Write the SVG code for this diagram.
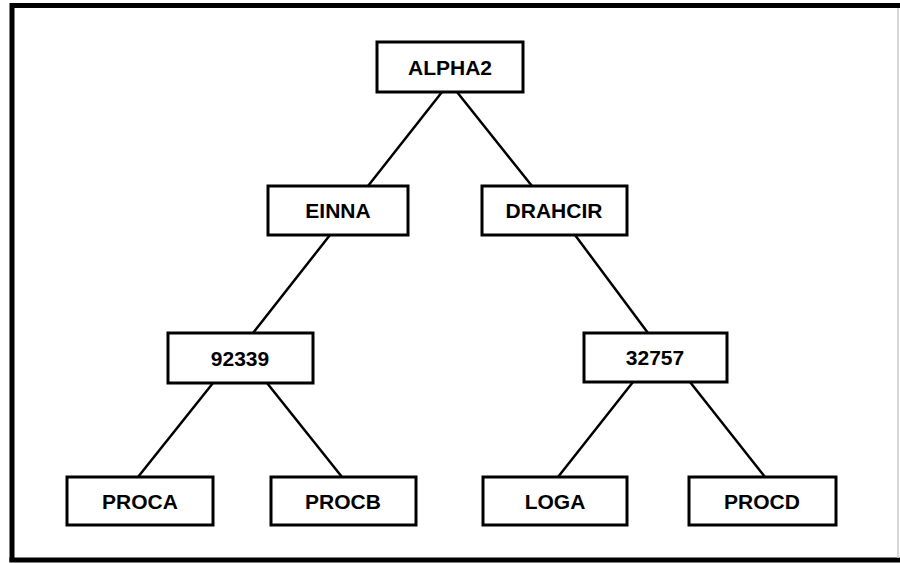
<svg xmlns="http://www.w3.org/2000/svg" width="900" height="563" viewBox="0 0 900 563">
  <style>
    .box { fill: #ffffff; stroke: #000000; stroke-width: 3; }
    .lbl { font-family: "Liberation Sans", Arial, sans-serif; font-weight: bold; font-size: 21px; fill: #000000; text-anchor: middle; }
    .edge { stroke: #000000; stroke-width: 2.5; fill: none; stroke-linecap: round; }
    .frame { stroke: #000000; stroke-width: 5; fill: none; }
  </style>
  <rect width="900" height="563" fill="#ffffff"/>

  <!-- page frame -->
  <g id="frame">
    <line class="frame" x1="12" y1="5.5" x2="900" y2="5.5"/>
    <line class="frame" x1="12" y1="3" x2="12" y2="562"/>
    <line class="frame" x1="9.5" y1="560" x2="900" y2="560"/>
    <line x1="898" y1="8" x2="898" y2="558" stroke="#c8c8c8" stroke-width="1.5"/>
  </g>

  <!-- tree edges -->
  <g id="connectors">
    <line class="edge" x1="442" y1="92" x2="368" y2="186"/>
    <line class="edge" x1="457" y1="92" x2="532" y2="186"/>
    <line class="edge" x1="330" y1="235" x2="253" y2="333"/>
    <line class="edge" x1="575" y1="235" x2="648" y2="333"/>
    <line class="edge" x1="213" y1="383" x2="138" y2="477"/>
    <line class="edge" x1="267" y1="383" x2="342" y2="477"/>
    <line class="edge" x1="633" y1="382" x2="558" y2="477"/>
    <line class="edge" x1="690" y1="382" x2="765" y2="477"/>
  </g>

  <g id="alpha2">
    <rect class="box" x="377" y="42" width="146" height="50"/>
    <text class="lbl" x="450" y="75">ALPHA2</text>
  </g>
  <g id="einna">
    <rect class="box" x="268" y="186" width="140" height="49"/>
    <text class="lbl" x="338" y="218">EINNA</text>
  </g>
  <g id="drahcir">
    <rect class="box" x="482" y="186" width="145" height="49"/>
    <text class="lbl" x="554" y="218">DRAHCIR</text>
  </g>
  <g id="n92339">
    <rect class="box" x="168" y="333" width="145" height="50"/>
    <text class="lbl" x="240" y="366">92339</text>
  </g>
  <g id="n32757">
    <rect class="box" x="584" y="333" width="143" height="49"/>
    <text class="lbl" x="655" y="365">32757</text>
  </g>
  <g id="proca">
    <rect class="box" x="67" y="477" width="146" height="48"/>
    <text class="lbl" x="140" y="509">PROCA</text>
  </g>
  <g id="procb">
    <rect class="box" x="271" y="477" width="145" height="48"/>
    <text class="lbl" x="343" y="509">PROCB</text>
  </g>
  <g id="loga">
    <rect class="box" x="483" y="477" width="144" height="48"/>
    <text class="lbl" x="555" y="509">LOGA</text>
  </g>
  <g id="procd">
    <rect class="box" x="689" y="477" width="147" height="48"/>
    <text class="lbl" x="762" y="509">PROCD</text>
  </g>
</svg>
